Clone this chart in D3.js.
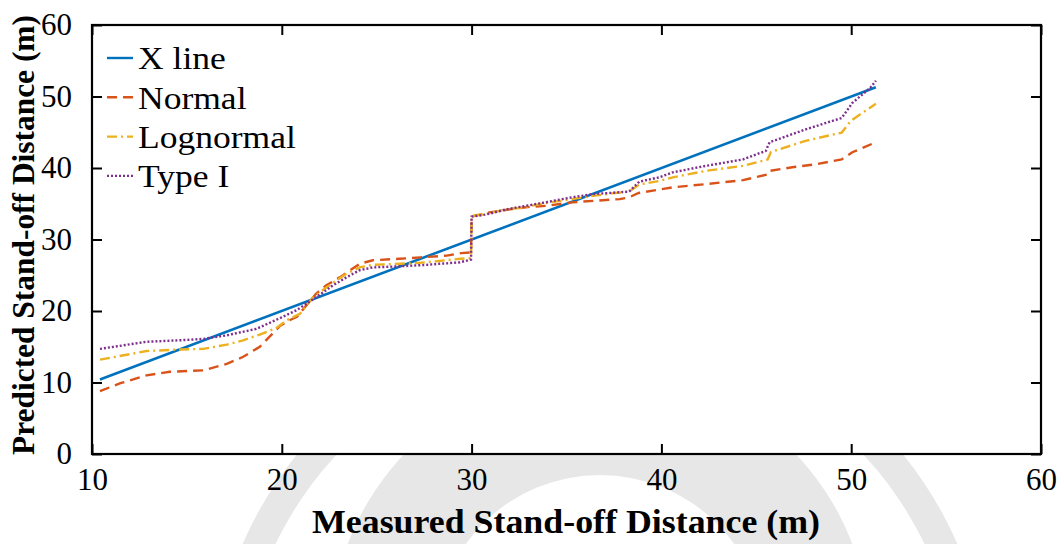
<!DOCTYPE html>
<html>
<head>
<meta charset="utf-8">
<script src="https://cdn.jsdelivr.net/npm/d3@7"></script>
<style>
  html, body { margin: 0; padding: 0; background: #fff; }
  svg { display: block; font-family: "Liberation Serif", "Times New Roman", serif; }
</style>
</head>
<body>
<svg id="chart" width="1062" height="544"></svg>
<script>
// Measured vs predicted stand-off distance for three fitted distributions
const xTicks = [10, 20, 30, 40, 50, 60];
const yTicks = [0, 10, 20, 30, 40, 50, 60];

const xLine = [[10.42, 10.42], [51.3, 51.3]];

const normal = [
  [10.42, 8.8], [11.5, 9.9], [12.88, 11.0], [14.1, 11.5], [15.86, 11.7], [17.1, 12.6],
  [17.97, 13.6], [18.84, 15.0], [19.5, 16.8], [19.9, 17.9], [20.4, 18.7], [20.8, 19.2],
  [21.8, 22.4], [22.35, 23.6], [23.05, 24.7], [23.6, 25.7], [24.1, 26.6], [24.8, 27.1],
  [26.2, 27.3], [27.3, 27.5], [28.7, 27.75], [29.45, 28.1], [29.97, 28.2], [30.0, 33.2],
  [30.95, 33.8], [32.5, 34.4], [33.2, 34.6], [33.9, 34.7], [35.3, 35.2], [36.4, 35.4],
  [37.8, 35.65], [38.3, 35.9], [38.8, 36.5], [40.6, 37.3], [42.35, 37.75], [44.3, 38.3],
  [45.6, 39.1], [45.7, 39.6], [46.9, 40.1], [48.1, 40.5], [49.5, 41.2], [50.06, 42.2],
  [51.3, 43.6]
];

const lognormal = [
  [10.42, 13.2], [12.88, 14.4], [14.45, 14.6], [15.86, 14.7], [17.1, 15.3], [17.96, 15.9],
  [18.84, 16.7], [19.7, 17.6], [20.25, 18.7], [20.95, 19.6], [21.65, 21.9], [22.35, 23.3],
  [23.4, 25.2], [24.1, 26.1], [24.8, 26.45], [26.2, 26.6], [27.3, 26.75], [28.3, 27.0],
  [29.4, 27.3], [29.97, 27.4], [30.0, 33.3], [30.77, 33.6], [31.8, 34.2], [32.5, 34.4],
  [33.9, 35.1], [35.3, 35.65], [36.4, 36.1], [37.4, 36.45], [38.3, 36.7], [38.84, 37.7],
  [39.9, 38.2], [40.6, 38.7], [42.35, 39.6], [44.3, 40.3], [45.6, 41.2], [45.77, 42.25],
  [47.6, 43.8], [49.5, 44.95], [49.98, 46.6], [51.3, 49.0]
];

const typeI = [
  [10.42, 14.7], [12.88, 15.7], [14.6, 15.9], [15.86, 16.1], [17.1, 16.6], [18.66, 17.5],
  [19.9, 19.0], [20.77, 20.1], [21.8, 21.9], [22.7, 23.6], [23.4, 24.7], [24.1, 25.7],
  [24.8, 26.1], [26.2, 26.25], [27.6, 26.45], [28.3, 26.6], [29.37, 26.8], [29.97, 27.2],
  [30.0, 33.2], [30.77, 33.5], [31.8, 34.2], [33.9, 35.2], [35.3, 35.9], [36.4, 36.35],
  [38.3, 36.7], [38.84, 38.1], [39.9, 38.7], [40.6, 39.4], [42.35, 40.3], [44.3, 41.2],
  [45.5, 42.4], [45.7, 43.6], [47.6, 45.4], [49.5, 47.0], [50.06, 49.1], [51.0, 51.2],
  [51.3, 52.2]
];

const seriesNames = ["X line", "Normal", "Lognormal", "Type I"];
const seriesData = [xLine, normal, lognormal, typeI];
const seriesColors = ["#0072BD", "#D95319", "#EDB120", "#7E2F8E"];
const seriesDash = [null, "10,6", "10,4,2,4", "2,2"];

const svg = d3.select("#chart");
const plot = { left: 92, right: 1041, top: 25, bottom: 454 };

// faint emblem behind the figure
const mark = svg.append("g").attr("fill", "#e7e7e7");
const ring = (cx, cy, r0, r1) => mark.append("path")
  .attr("transform", `translate(${cx},${cy})`)
  .attr("d", d3.arc()({ innerRadius: r0, outerRadius: r1, startAngle: 0, endAngle: 2 * Math.PI }));
ring(600, 700, 360, 390);
ring(600, 640, 165, 270);

// plot area background
svg.append("rect")
  .attr("x", plot.left).attr("y", plot.top)
  .attr("width", plot.right - plot.left).attr("height", plot.bottom - plot.top)
  .attr("fill", "#fff");

const x = d3.scaleLinear().domain([10, 60]).range([plot.left, plot.right]);
const y = d3.scaleLinear().domain([0, 60]).range([plot.bottom, plot.top]);

const line = d3.line().x(d => x(d[0])).y(d => y(d[1]));

const lines = svg.append("g").attr("fill", "none");
seriesData.forEach((data, i) => {
  lines.append("path")
    .datum(data)
    .attr("d", line)
    .attr("stroke", seriesColors[i])
    .attr("stroke-width", i === 0 ? 2.6 : 2.4)
    .attr("stroke-dasharray", seriesDash[i]);
});

// axes: box with inward ticks on every side
const tickLen = 10;
function styleAxis(g) {
  g.select(".domain").remove();
  g.selectAll(".tick line").attr("stroke", "#000").attr("stroke-width", 2);
  g.selectAll(".tick text")
    .attr("font-family", "Liberation Serif")
    .attr("font-size", 31)
    .attr("fill", "#000");
}

svg.append("g")
  .attr("transform", `translate(0,${plot.bottom})`)
  .call(d3.axisBottom(x).tickValues(xTicks).tickSize(-tickLen).tickPadding(14).tickFormat(d3.format("d")))
  .call(styleAxis);
svg.append("g")
  .attr("transform", `translate(0,${plot.top})`)
  .call(d3.axisTop(x).tickValues(xTicks).tickSize(-tickLen).tickFormat(""))
  .call(styleAxis);
svg.append("g")
  .attr("transform", `translate(${plot.left},0)`)
  .call(d3.axisLeft(y).tickValues(yTicks).tickSize(-tickLen).tickPadding(20).tickFormat(d3.format("d")))
  .call(styleAxis);
svg.append("g")
  .attr("transform", `translate(${plot.right},0)`)
  .call(d3.axisRight(y).tickValues(yTicks).tickSize(-tickLen).tickFormat(""))
  .call(styleAxis);

svg.append("rect")
  .attr("x", plot.left).attr("y", plot.top)
  .attr("width", plot.right - plot.left).attr("height", plot.bottom - plot.top)
  .attr("fill", "none").attr("stroke", "#000").attr("stroke-width", 2.2);

// axis titles (slightly widened serif, as in the exported figure)
svg.append("text")
  .attr("x", 312)
  .attr("y", 533)
  .attr("text-anchor", "start")
  .attr("font-size", 33).attr("font-weight", "bold")
  .attr("textLength", 508).attr("lengthAdjust", "spacingAndGlyphs")
  .text("Measured Stand-off Distance (m)");

svg.append("text")
  .attr("transform", `translate(34,${plot.bottom + 1}) rotate(-90)`)
  .attr("text-anchor", "start")
  .attr("font-size", 32).attr("font-weight", "bold")
  .attr("textLength", 440).attr("lengthAdjust", "spacingAndGlyphs")
  .text("Predicted Stand-off Distance (m)");

// legend
const legend = svg.append("g").attr("transform", "translate(107,58)");
seriesNames.forEach((name, i) => {
  const row = legend.append("g").attr("transform", `translate(0,${i * 39.3})`);
  row.append("line")
    .attr("x1", 0).attr("x2", 26).attr("y1", 0).attr("y2", 0)
    .attr("stroke", seriesColors[i]).attr("stroke-width", 2.4)
    .attr("stroke-dasharray", seriesDash[i]);
  const t = row.append("text")
    .attr("x", 31).attr("y", 0).attr("dy", "0.35em")
    .attr("font-size", 32)
    .text(name);
  const w = t.node().getComputedTextLength();
  t.attr("textLength", w * 1.11).attr("lengthAdjust", "spacingAndGlyphs");
});
</script>
</body>
</html>
